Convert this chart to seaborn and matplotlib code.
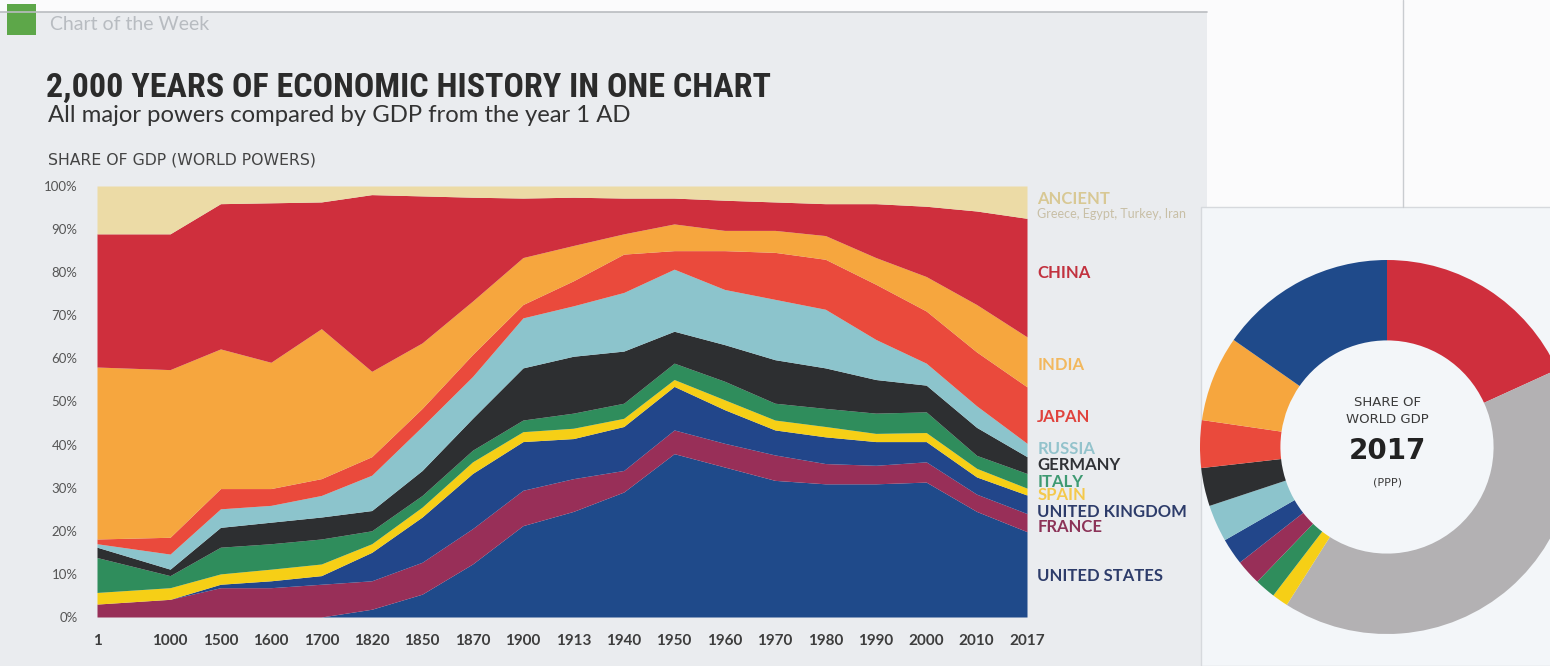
import numpy as np
import matplotlib
matplotlib.use("Agg")
import matplotlib.pyplot as plt
import matplotlib.patches as mpatches
import matplotlib.transforms as mtransforms
from matplotlib.ticker import PercentFormatter
import seaborn as sns

# share of GDP among the world powers (%), bottom layer first
years = ["1", "1000", "1500", "1600", "1700", "1820", "1850", "1870", "1900", "1913",
         "1940", "1950", "1960", "1970", "1980", "1990", "2000", "2010", "2017"]
united_states = [0, 0, 0, 0, 0, 1.8, 5.3, 12.3, 21.2, 24.5, 29.0, 37.9, 34.8, 31.7, 30.9, 30.9, 31.3, 24.5, 19.8]
france = [3.0, 4.1, 6.8, 6.8, 7.6, 6.6, 7.4, 8.2, 8.2, 7.6, 5.0, 5.5, 5.5, 5.9, 4.7, 4.3, 4.7, 4.0, 4.2]
united_kingdom = [0, 0, 0.8, 1.6, 2.0, 6.6, 10.5, 12.8, 11.3, 9.3, 10.2, 10.1, 7.8, 5.8, 6.2, 5.5, 4.7, 4.0, 4.3]
spain = [2.7, 2.7, 2.4, 2.7, 2.7, 2.0, 2.3, 2.7, 2.3, 2.4, 1.9, 1.6, 2.3, 2.3, 2.4, 1.9, 2.1, 2.0, 1.6]
italy = [8.1, 2.8, 6.2, 5.9, 5.8, 3.0, 2.7, 2.7, 2.7, 3.5, 3.5, 3.8, 4.3, 3.9, 4.2, 4.7, 4.8, 3.0, 3.4]
germany = [2.4, 1.5, 4.6, 5.0, 5.1, 4.7, 5.8, 7.4, 12.1, 13.2, 12.1, 7.4, 8.5, 10.1, 9.4, 7.8, 6.2, 6.5, 3.9]
russia = [0.8, 3.5, 4.3, 3.9, 5.0, 8.2, 10.2, 9.7, 11.6, 11.7, 13.6, 14.4, 12.8, 14.0, 13.6, 9.3, 5.1, 5.0, 3.1]
japan = [1.1, 3.9, 4.7, 3.9, 3.9, 4.3, 4.2, 5.1, 3.1, 5.8, 8.9, 4.3, 9.0, 10.9, 11.6, 12.8, 12.1, 12.5, 13.1]
india = [39.9, 38.9, 32.4, 29.3, 34.8, 19.8, 15.2, 12.4, 10.9, 8.2, 4.7, 6.2, 4.7, 5.1, 5.5, 6.2, 8.0, 11.0, 11.6]
china = [30.9, 31.5, 33.7, 37.0, 29.4, 41.0, 34.1, 24.1, 13.8, 11.2, 8.3, 6.0, 7.0, 6.6, 7.4, 12.5, 16.3, 21.7, 27.5]
ancient = [11.1, 11.1, 4.1, 3.9, 3.7, 2.0, 2.3, 2.6, 2.8, 2.6, 2.8, 2.8, 3.3, 3.7, 4.1, 4.1, 4.7, 5.8, 7.5]

series = [united_states, france, united_kingdom, spain, italy, germany,
          russia, japan, india, china, ancient]
names = ["UNITED STATES", "FRANCE", "UNITED KINGDOM", "SPAIN", "ITALY", "GERMANY",
         "RUSSIA", "JAPAN", "INDIA", "CHINA", "ANCIENT"]

# 2017 share of world GDP (PPP), clockwise from 12 o'clock
donut_names = ["China", "Rest of world", "Spain", "Italy", "France", "United Kingdom",
               "Russia", "Germany", "Japan", "India", "United States"]
donut_values = [18.2, 40.8, 1.4, 1.8, 2.2, 2.3, 3.2, 3.3, 4.1, 7.4, 15.3]

# colours
fill = {
    "UNITED STATES": "#1f4a8a", "FRANCE": "#982f58", "UNITED KINGDOM": "#22468a",
    "SPAIN": "#f6cf16", "ITALY": "#2f8d5c", "GERMANY": "#2d2f31", "RUSSIA": "#8cc4cc",
    "JAPAN": "#ea4a3c", "INDIA": "#f6a63e", "CHINA": "#cf2f3d", "ANCIENT": "#ecdba6",
    "Rest of world": "#b3b1b3",
}
text_col = {
    "ANCIENT": "#d8c894", "CHINA": "#c2323f", "INDIA": "#f2b85e", "JAPAN": "#e0433d",
    "RUSSIA": "#93c3cc", "GERMANY": "#303236", "ITALY": "#3e9a72", "SPAIN": "#f4c94c",
    "UNITED KINGDOM": "#2d3c6a", "FRANCE": "#8c3358", "UNITED STATES": "#2d3c6a",
}
donut_colors = [fill["CHINA"], fill["Rest of world"], fill["SPAIN"], fill["ITALY"],
                fill["FRANCE"], fill["UNITED KINGDOM"], fill["RUSSIA"], fill["GERMANY"],
                fill["JAPAN"], fill["INDIA"], fill["UNITED STATES"]]

# right-hand labels: y position in % of the axis
label_y = {"ANCIENT": 97.0, "CHINA": 79.8, "INDIA": 58.5, "JAPAN": 46.4, "RUSSIA": 39.0,
           "GERMANY": 35.3, "ITALY": 31.4, "SPAIN": 28.3, "UNITED KINGDOM": 24.4,
           "FRANCE": 20.9, "UNITED STATES": 9.5}

# spacing between the year columns (first step is wider)
x_gap = [1.45] + [1.0] * 17
x_pos = np.concatenate([[0], np.cumsum(x_gap)])

sns.set_theme(style="white")
plt.rcParams["font.family"] = ["Lato", "DejaVu Sans"]

W, H = 1550, 666
fig = plt.figure(figsize=(W / 100, H / 100), dpi=100)
fig.patch.set_facecolor("#fbfbfc")

# page panels
fig.patches.append(mpatches.Rectangle((0, 0), 1207 / W, 654 / H, transform=fig.transFigure,
                                      facecolor="#eaecef", edgecolor="none", zorder=-5))
fig.add_artist(plt.Line2D([0, 1207 / W], [654 / H, 654 / H], transform=fig.transFigure,
                          color="#b9bcc0", lw=1.2))
fig.patches.append(mpatches.Rectangle((1201 / W, 0), 360 / W, 459 / H, transform=fig.transFigure,
                                      facecolor="#f3f6f9", edgecolor="#d6d9dd", lw=1, zorder=-4))
fig.add_artist(plt.Line2D([1403 / W, 1403 / W], [459 / H, 1], transform=fig.transFigure,
                          color="#c9ccd0", lw=1))
fig.patches.append(mpatches.Rectangle((7 / W, 631 / H), 29 / W, 31 / H, transform=fig.transFigure,
                                      facecolor="#5da749", edgecolor="none"))

fig.text(50 / W, 641 / H, "Chart of the Week", fontsize=14, color="#b8bcc1", va="center")
fig.text(46 / W, 578 / H, "2,000 YEARS OF ECONOMIC HISTORY IN ONE CHART",
         family=["Liberation Sans Narrow", "Roboto Condensed", "DejaVu Sans"],
         fontsize=24.5, fontweight="bold", color="#2b2b2b", va="center")
fig.text(48 / W, 550 / H, "All major powers compared by GDP from the year 1 AD",
         fontsize=17.2, color="#333333", va="center")
fig.text(48 / W, 506 / H, "SHARE OF GDP (WORLD POWERS)", family=["DejaVu Sans"],
         fontsize=11.3, color="#444444", va="center")

# main stacked area chart
ax = fig.add_axes([97 / W, 49 / H, 930 / W, 431 / H])
ax.stackplot(x_pos, *series, colors=[fill[n] for n in names], lw=0)
ax.set_xlim(x_pos[0], x_pos[-1])
ax.set_ylim(0, 100)
ax.patch.set_alpha(0)
sns.despine(ax=ax, left=True, bottom=True)
ax.set_xticks(x_pos)
ax.set_xticklabels(years, fontsize=11, fontweight="bold", color="#3d3d3d")
ax.set_yticks(range(0, 101, 10))
ax.yaxis.set_major_formatter(PercentFormatter(decimals=0))
ax.tick_params(axis="x", length=0, pad=12)
ax.tick_params(axis="y", length=0, pad=14, labelsize=9.5, labelcolor="#555555")
ax.grid(False)

trans = mtransforms.blended_transform_factory(ax.transAxes, ax.transData)
for n in names:
    ax.text(1.011, label_y[n], n, transform=trans, fontsize=12, fontweight="bold",
            color=text_col[n], va="center", ha="left")
ax.text(1.011, 93.6, "Greece, Egypt, Turkey, Iran", transform=trans, fontsize=9,
        color="#c8bfa6", va="center", ha="left")

# 2017 donut
ax2 = fig.add_axes([(1387 - 187) / W, (666 - 447 - 187) / H, 374 / W, 374 / H])
ax2.pie(donut_values, colors=donut_colors, startangle=90, counterclock=False,
        radius=1, wedgeprops=dict(width=0.43, linewidth=0))
ax2.set_xlim(-1, 1)
ax2.set_ylim(-1, 1)
ax2.axis("off")
ax2.text(0, 0.24, "SHARE OF", family=["DejaVu Sans"], fontsize=9.5, color="#3a3a3a",
         ha="center", va="center")
ax2.text(0, 0.145, "WORLD GDP", family=["DejaVu Sans"], fontsize=9.5, color="#3a3a3a",
         ha="center", va="center")
ax2.text(0, -0.02, "2017", family=["DejaVu Sans"], fontsize=20, fontweight="bold",
         color="#222222", ha="center", va="center")
ax2.text(0, -0.19, "(PPP)", family=["DejaVu Sans"], fontsize=8, color="#3a3a3a",
         ha="center", va="center")

fig.savefig("out.png", dpi=100, facecolor=fig.get_facecolor())
